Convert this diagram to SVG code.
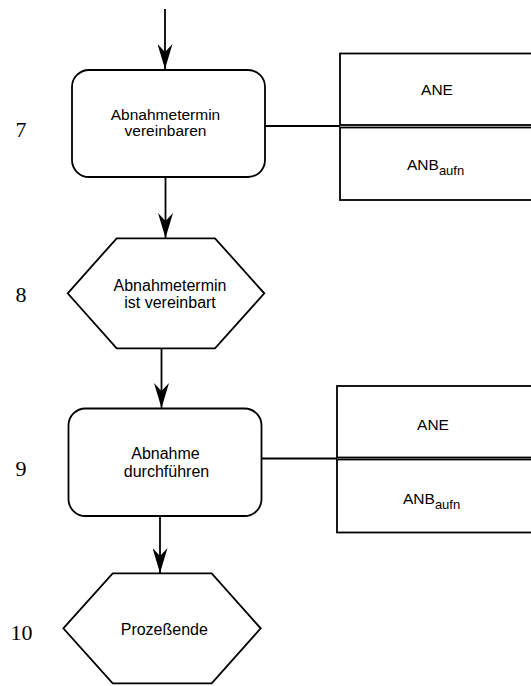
<svg xmlns="http://www.w3.org/2000/svg" width="531" height="686" viewBox="0 0 531 686">
<style>
  .shape { fill: #ffffff; stroke: #000000; stroke-width: 1.8; }
  .conn { fill: none; stroke: #000000; stroke-width: 1.8; }
  .t { font-family: "Liberation Sans", Arial, sans-serif; font-size: 16px; fill: #000000; text-anchor: middle; }
  .ts { font-family: "Liberation Sans", Arial, sans-serif; font-size: 15.5px; fill: #000000; }
  .sub { font-size: 13px; }
  .num { font-family: "Liberation Serif", "Times New Roman", serif; font-size: 22px; fill: #000000; text-anchor: middle; }
</style>
<defs>
  <marker id="arrow" viewBox="0 -7.5 25 15" refX="25" refY="0" markerWidth="25" markerHeight="15" markerUnits="userSpaceOnUse" orient="auto">
    <path d="M0,-7.5 L25,0 L0,7.5 L8,0 Z" fill="#000000"/>
  </marker>
</defs>
<rect width="531" height="686" fill="#ffffff"/>

<g id="connectors">
  <line class="conn" x1="165" y1="9" x2="165" y2="69" marker-end="url(#arrow)"/>
  <line class="conn" x1="165.5" y1="177" x2="165.5" y2="238" marker-end="url(#arrow)"/>
  <line class="conn" x1="161.5" y1="348" x2="161.5" y2="408" marker-end="url(#arrow)"/>
  <line class="conn" x1="160" y1="516" x2="160" y2="573" marker-end="url(#arrow)"/>
  <line class="conn" x1="265" y1="126" x2="340" y2="126"/>
  <line class="conn" x1="262" y1="458.5" x2="337" y2="458.5"/>
</g>

<g id="label-7"><text class="num" x="21" y="137">7</text></g>
<g id="label-8"><text class="num" x="21" y="302">8</text></g>
<g id="label-9"><text class="num" x="21" y="476">9</text></g>
<g id="label-10"><text class="num" x="21.5" y="640">10</text></g>

<g id="node-7">
  <rect class="shape" x="72" y="70" width="193" height="107" rx="17" ry="17"/>
  <text class="t" x="165.5" y="120" style="font-size:15.5px">Abnahmetermin</text>
  <text class="t" x="165.5" y="136" style="font-size:15.5px">vereinbaren</text>
</g>

<g id="roles-7">
  <rect class="shape" x="340" y="53.5" width="200" height="71.5"/>
  <rect class="shape" x="340" y="127.5" width="200" height="72.5"/>
  <text class="t" x="437" y="95" style="font-size:15.5px">ANE</text>
  <text class="ts" x="407" y="170">ANB<tspan class="sub" dy="5">aufn</tspan></text>
</g>

<g id="node-8">
  <polygon class="shape" points="67.7,293.3 116.7,238.3 215,238.3 264.3,293.3 215,348.3 116.7,348.3"/>
  <text class="t" x="170" y="290.5">Abnahmetermin</text>
  <text class="t" x="170" y="307.5">ist vereinbart</text>
</g>

<g id="node-9">
  <rect class="shape" x="68.5" y="408.5" width="193" height="107.5" rx="17" ry="17"/>
  <text class="t" x="165.5" y="458.5">Abnahme</text>
  <text class="t" x="166.5" y="476.5">durchführen</text>
</g>

<g id="roles-9">
  <rect class="shape" x="337" y="386" width="200" height="71.5"/>
  <rect class="shape" x="337" y="459.5" width="200" height="73"/>
  <text class="t" x="433" y="429.5" style="font-size:15.5px">ANE</text>
  <text class="ts" x="403" y="503.5">ANB<tspan class="sub" dy="5">aufn</tspan></text>
</g>

<g id="node-10">
  <polygon class="shape" points="63.3,628.3 112.7,573.3 211.7,573.3 260.7,628.3 211.7,683.3 112.7,683.3"/>
  <text class="t" x="164.3" y="635">Prozeßende</text>
</g>
</svg>
